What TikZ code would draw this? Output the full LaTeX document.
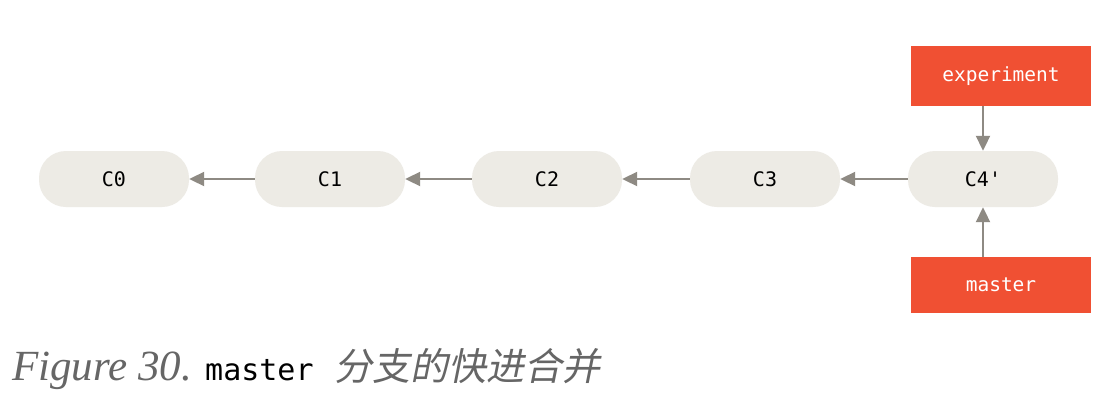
\documentclass[tikz,border=0pt]{standalone}
\usepackage{fontspec}
\setmonofont{DejaVu Sans Mono}
\newfontfamily\capserif{Liberation Serif}
\newfontfamily\cjk[FakeSlant=0.2]{Noto Sans CJK SC}
\usetikzlibrary{arrows.meta}
\definecolor{pillgray}{HTML}{EDEBE5}
\definecolor{arrowgray}{HTML}{8E8A83}
\definecolor{gitorange}{HTML}{F05033}
\definecolor{capgray}{HTML}{666666}
\tikzset{
  commit/.style={fill=pillgray,rounded corners=27pt,minimum width=150pt,minimum height=56pt,
    font=\ttfamily\fontsize{20}{24}\selectfont,text=black},
  branch/.style={fill=gitorange,minimum width=180pt,
    font=\ttfamily\fontsize{19.5}{24}\selectfont,text=white},
  parent/.style={-{Triangle[length=15pt,width=14pt]},draw=arrowgray,line width=2pt}
}
\begin{document}
\begin{tikzpicture}[x=1pt,y=-1pt]
    \useasboundingbox[fill=white](0,0) rectangle (1100,418);
    %提交
    \node[commit] (c0) at (114,179) {C0};
    \node[commit] (c1) at (330,179) {C1};
    \node[commit] (c2) at (547,179) {C2};
    \node[commit] (c3) at (765,179) {C3};
    \node[commit] (c4) at (983,179) {C4'};
    %分支
    \node[branch,minimum height=60pt] (experiment) at (1001,76) {experiment};
    \node[branch,minimum height=56pt] (master) at (1001,285) {master};
    %指向父提交
    \draw[parent] (c1) -- (c0);
    \draw[parent] (c2) -- (c1);
    \draw[parent] (c3) -- (c2);
    \draw[parent] (c4) -- (c3);
    \draw[parent] (experiment.south -| c4) -- (c4);
    \draw[parent] (master.north -| c4) -- (c4);
    %标题
    \node[anchor=base west,inner sep=0pt,text=capgray,font=\capserif\itshape\fontsize{43}{48}\selectfont] (figlabel) at (12,380) {Figure 30.};
    \node[anchor=base west,inner sep=0pt,text=black,font=\ttfamily\fontsize{30}{36}\selectfont] (figcode) at (205,380) {master};
    \node[anchor=base west,inner sep=0pt,text=capgray,font=\cjk\fontsize{38}{44}\selectfont] (figtitle) at (334,380) {分支的快进合并};
\end{tikzpicture}
\end{document}
